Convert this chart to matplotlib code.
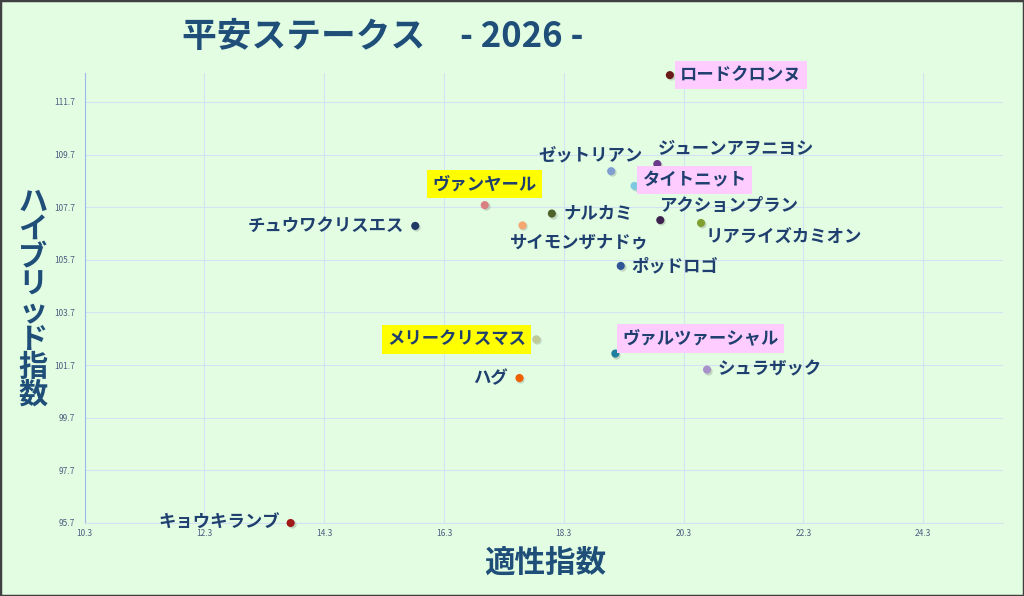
import matplotlib
matplotlib.use("Agg")
import matplotlib.pyplot as plt
from matplotlib.patches import Rectangle
import matplotlib.transforms as mtransforms

plt.rcParams['font.family'] = ['Noto Sans CJK JP', 'DejaVu Sans']

# ---- data ----
horses = ["ロードクロンヌ", "ジューンアヲニヨシ", "ゼットリアン", "タイトニット", "ナルカミ",
          "サイモンザナドゥ", "アクションプラン", "リアライズカミオン", "ポッドロゴ", "ヴァンヤール",
          "チュウワクリスエス", "メリークリスマス", "ヴァルツァーシャル", "シュラザック", "ハグ",
          "キョウキランブ"]
aptitude = [20.07, 19.86, 19.09, 19.48, 18.10, 17.61, 19.91, 20.59, 19.25, 16.98,
            15.82, 17.84, 19.16, 20.69, 17.56, 13.74]
hybrid = [112.72, 109.34, 109.07, 108.51, 107.46, 107.01, 107.21, 107.10, 105.47, 107.78,
          106.99, 102.68, 102.14, 101.53, 101.21, 95.70]
x_ticks = [10.3, 12.3, 14.3, 16.3, 18.3, 20.3, 22.3, 24.3]
y_ticks = [95.7, 97.7, 99.7, 101.7, 103.7, 105.7, 107.7, 109.7, 111.7]
title = "平安ステークス　- 2026 -"
x_label = "適性指数"
y_label = "ハイブリッド指数"

# ---- styles ----
dot_colors = ["#6B1A1A", "#6B3A8A", "#7F9FD0", "#7EC8E0", "#4F6228",
              "#F4A870", "#3F2150", "#7F9F2F", "#2F5597", "#D98080",
              "#1F3864", "#C0CC98", "#1F7F9F", "#A890C8", "#F06000",
              "#A01818"]
# label offsets in pixels (dx, dy with dy up), alignment, highlight box
label_style = [
    (10, 0, 'left', '#FFCCFF'),
    (1, 15, 'left', None),
    (-21, 16, 'center', None),
    (8, 6, 'left', '#FFCCFF'),
    (12, 0, 'left', None),
    (-12, -17, 'left', None),
    (-1, 14, 'left', None),
    (5, -14, 'left', None),
    (11, 0, 'left', None),
    (0, 21, 'center', '#FFFF00'),
    (-11, 0, 'right', None),
    (-10, 0, 'right', '#FFFF00'),
    (7, 15, 'left', '#FFCCFF'),
    (11, 0, 'left', None),
    (-12, 0, 'right', None),
    (-11, 0, 'right', None),
]

bg = "#E3FDE3"
text_col = "#1F3F6F"

fig = plt.figure(figsize=(10.24, 5.96), dpi=100, facecolor=bg)
ax = fig.add_axes([84.5 / 1024, 1 - 523 / 596, (1003 - 84.5) / 1024, (523 - 73) / 596])
ax.set_facecolor(bg)

ax.set_xlim(10.3, 25.63)
ax.set_ylim(95.7, 112.8)
ax.set_xticks(x_ticks)
ax.set_yticks(y_ticks)
ax.set_xticklabels([f"{v:.1f}" for v in x_ticks])
ax.set_yticklabels([f"{v:.1f}" for v in y_ticks])
ax.tick_params(axis='both', length=0, labelsize=6, colors="#4A5F80")
ax.tick_params(axis='y', pad=7)
ax.tick_params(axis='x', pad=4)
ax.grid(True, color="#D3E3F3", linewidth=0.8)
ax.set_axisbelow(True)
for s in ['top', 'right']:
    ax.spines[s].set_visible(False)
ax.spines['left'].set_color("#9DB8EA")
ax.spines['bottom'].set_color("#D3E3F3")

# shadow + dots
shadow_tr = ax.transData + mtransforms.ScaledTranslation(1 / 100, -1 / 100, fig.dpi_scale_trans)
ax.scatter(aptitude, hybrid, s=36, c="#9AA89A", alpha=0.45, zorder=3,
           linewidths=0, transform=shadow_tr, clip_on=False)
ax.scatter(aptitude, hybrid, s=34, c=dot_colors, zorder=4, linewidths=0, clip_on=False)

for name, xv, yv, (dx, dy, ha, box) in zip(horses, aptitude, hybrid, label_style):
    kw = {}
    if box:
        kw['bbox'] = dict(boxstyle='square,pad=0.3', facecolor=box, edgecolor='none')
    ax.annotate(name, (xv, yv), xytext=(dx * 0.72, dy * 0.72), textcoords='offset points',
                ha=ha, va='center', fontsize=12.5, fontweight='bold', color=text_col,
                zorder=5, annotation_clip=False, **kw)

fig.text(383 / 1024, 1 - 37 / 596, title, ha='center', va='center', fontsize=25,
         fontweight='bold', color="#1F4E79")
fig.text(545 / 1024, 1 - 563 / 596, x_label, ha='center', va='center', fontsize=22,
         fontweight='bold', color="#1F4E79")
fig.text(33 / 1024, 1 - 298 / 596, "\n".join(y_label), ha='center', va='center', fontsize=21,
         fontweight='bold', color="#1F4E79", linespacing=0.9)

fig.patches.append(Rectangle((0, 0), 1, 1, transform=fig.transFigure, fill=False,
                             edgecolor="#404040", linewidth=2.5, zorder=10))

fig.savefig("out.png", dpi=100, facecolor=bg)
